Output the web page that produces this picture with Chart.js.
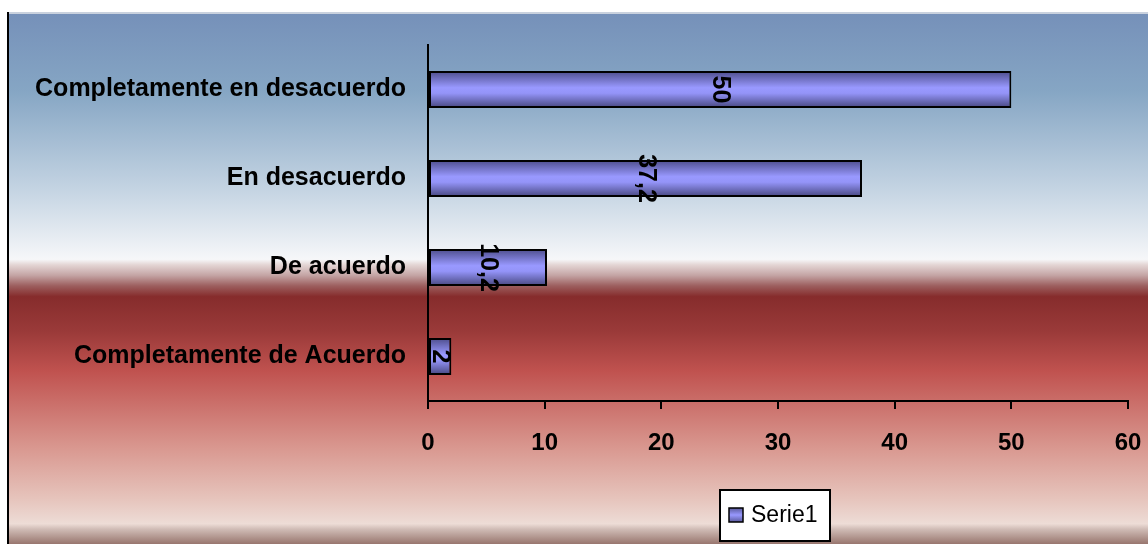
<!DOCTYPE html>
<html>
<head>
<meta charset="utf-8">
<script src="https://cdn.jsdelivr.net/npm/chart.js@4/dist/chart.umd.min.js"></script>
<style>
  html, body { margin: 0; padding: 0; background: #fff; }
  #wrap { width: 1148px; height: 544px; }
</style>
</head>
<body>
<div id="wrap"><canvas id="myChart" width="1148" height="544"></canvas></div>
<script>
const categorias = ['Completamente en desacuerdo', 'En desacuerdo', 'De acuerdo', 'Completamente de Acuerdo'];
const serie1 = [50, 37.2, 10.2, 2];
const ticksX = [0, 10, 20, 30, 40, 50, 60];
const nombreSerie = 'Serie1';

const fuente = "'Liberation Sans', Arial, sans-serif";

// fondo degradado tipo Excel
const fondo = {
    id: 'fondo',
    beforeDraw(chart) {
        const ctx = chart.ctx;
        ctx.save();
        ctx.fillStyle = '#ffffff';
        ctx.fillRect(0, 0, chart.width, chart.height);
        const g = ctx.createLinearGradient(0, 12, 0, chart.height);
        g.addColorStop(0.00, '#7590b9');
        g.addColorStop(0.15, '#86a6c4');
        g.addColorStop(0.33, '#c3d3e2');
        g.addColorStop(0.465, '#f6f7f9');
        g.addColorStop(0.475, '#e4d6d5');
        g.addColorStop(0.495, '#c4a4a4');
        g.addColorStop(0.515, '#9c5e5e');
        g.addColorStop(0.535, '#862c2c');
        g.addColorStop(0.60, '#9a3a39');
        g.addColorStop(0.675, '#c0524f');
        g.addColorStop(0.82, '#d99890');
        g.addColorStop(0.915, '#e6c4bc');
        g.addColorStop(0.962, '#eddcd6');
        g.addColorStop(0.972, '#d0bcb6');
        g.addColorStop(1.00, '#98766e');
        ctx.fillStyle = g;
        ctx.fillRect(8, 12, chart.width - 8, chart.height - 12);
        ctx.fillStyle = '#c9d1de';
        ctx.fillRect(8, 12, chart.width - 8, 2);
        ctx.fillStyle = '#000000';
        ctx.fillRect(7, 12, 2, chart.height - 12);
        ctx.restore();
    }
};

// etiquetas de valor giradas
const etiquetas = {
    id: 'etiquetas',
    afterDatasetsDraw(chart) {
        const ctx = chart.ctx;
        const meta = chart.getDatasetMeta(0);
        ctx.save();
        ctx.fillStyle = '#000';
        ctx.font = 'bold 25px ' + fuente;
        ctx.textAlign = 'center';
        ctx.textBaseline = 'middle';
        meta.data.forEach((bar, i) => {
            const x = (bar.x + bar.base) / 2;
            ctx.save();
            ctx.translate(x, bar.y);
            ctx.rotate(Math.PI / 2);
            ctx.fillText(String(serie1[i]).replace('.', ','), 0, 0);
            ctx.restore();
        });
        ctx.restore();
    }
};

// leyenda con caja blanca
const leyenda = {
    id: 'leyenda',
    afterDraw(chart) {
        const ctx = chart.ctx;
        ctx.save();
        ctx.fillStyle = '#fff';
        ctx.fillRect(720, 490, 110, 51);
        ctx.strokeStyle = '#000';
        ctx.lineWidth = 2;
        ctx.strokeRect(720, 490, 110, 51);
        const g = ctx.createLinearGradient(0, 508, 0, 522);
        g.addColorStop(0, '#5a5a9c');
        g.addColorStop(0.5, '#9999ff');
        g.addColorStop(1, '#5a5a9c');
        ctx.fillStyle = g;
        ctx.fillRect(729, 508, 14, 14);
        ctx.lineWidth = 1.5;
        ctx.strokeRect(729, 508, 14, 14);
        ctx.fillStyle = '#000';
        ctx.font = '23px ' + fuente;
        ctx.textBaseline = 'middle';
        ctx.fillText(nombreSerie, 751, 516);
        ctx.restore();
    }
};

function colorBarra(context) {
    const chart = context.chart;
    const y = chart.scales.y;
    if (!chart.chartArea || !y) return '#9999ff';
    const paso = y.getPixelForValue(1) - y.getPixelForValue(0);
    const mitad = Math.abs(paso) * 0.415 / 2;
    const cy = y.getPixelForValue(context.dataIndex);
    const g = chart.ctx.createLinearGradient(0, cy - mitad, 0, cy + mitad);
    g.addColorStop(0, '#4c4c8a');
    g.addColorStop(0.45, '#9999ff');
    g.addColorStop(0.6, '#9494f8');
    g.addColorStop(1, '#46467e');
    return g;
}

const ctx = document.getElementById('myChart').getContext('2d');
new Chart(ctx, {
    type: 'bar',
    data: {
        labels: categorias,
        datasets: [{
            label: nombreSerie,
            data: serie1,
            backgroundColor: colorBarra,
            borderColor: '#000',
            borderWidth: 2,
            borderSkipped: false,
            barPercentage: 0.83,
            categoryPercentage: 0.5
        }]
    },
    options: {
        indexAxis: 'y',
        responsive: false,
        animation: false,
        devicePixelRatio: 1,
        layout: { padding: { left: 0, right: 20, top: 45, bottom: 0 } },
        plugins: {
            legend: { display: false },
            tooltip: { enabled: false }
        },
        scales: {
            x: {
                min: 0,
                max: 60,
                afterBuildTicks: (scale) => { scale.ticks = ticksX.map(v => ({ value: v })); },
                afterFit: (scale) => { scale.height = 143; scale.paddingRight = 0; scale.paddingLeft = 0; },
                grid: { drawOnChartArea: false, drawTicks: true, tickLength: 8, color: '#000', lineWidth: 2 },
                border: { display: true, color: '#000', width: 2 },
                ticks: { color: '#000', padding: 20, font: { family: fuente, size: 24, weight: 'bold' } }
            },
            y: {
                afterFit: (scale) => { scale.width = 428; scale.paddingTop = 0; scale.paddingBottom = 0; },
                grid: { display: false },
                border: { display: true, color: '#000', width: 2 },
                ticks: { color: '#000', padding: 14, font: { family: fuente, size: 25, weight: 'bold' } }
            }
        }
    },
    plugins: [fondo, etiquetas, leyenda]
});
</script>
</body>
</html>
